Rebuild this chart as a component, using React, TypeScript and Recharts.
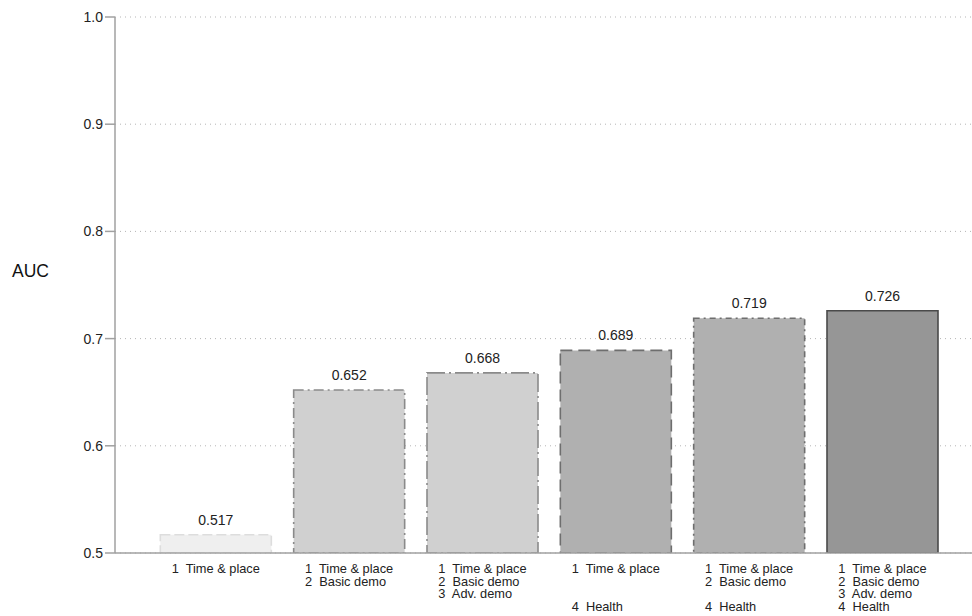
import { BarChart, Bar, Cell, XAxis, YAxis, CartesianGrid, LabelList } from "recharts";

const models = ["m1", "m2", "m3", "m4", "m5", "m6"];
const auc = [0.517, 0.652, 0.668, 0.689, 0.719, 0.726];
// one entry per model, one slot per feature block (empty = not included)
const featureLines = [
  ["1  Time & place", "", "", ""],
  ["1  Time & place", "2  Basic demo", "", ""],
  ["1  Time & place", "2  Basic demo", "3  Adv. demo", ""],
  ["1  Time & place", "", "", "4  Health"],
  ["1  Time & place", "2  Basic demo", "", "4  Health"],
  ["1  Time & place", "2  Basic demo", "3  Adv. demo", "4  Health"],
];
const yTicks = [0.5, 0.6, 0.7, 0.8, 0.9, 1.0];

const fills = ["#efefef", "#d0d0d0", "#d0d0d0", "#b0b0b0", "#b0b0b0", "#969696"];
const strokes = ["#dddddd", "#8a8a8a", "#8a8a8a", "#6e6e6e", "#6e6e6e", "#4a4a4a"];
const dashes = ["10 4", "10 4 2 4", "18 4 2 4", "12 6", "6 4 2 4", undefined];

const data = models.map((m, i) => ({ model: m, auc: auc[i], idx: i }));

const FONT = "'Liberation Sans', Arial, sans-serif";

function FeatureTick({ x, y, payload }: any) {
  const lines = featureLines[payload.index] ?? [];
  return (
    <g>
      {lines.map((ln, j) =>
        ln ? (
          <text
            key={j}
            x={x - 44}
            y={y + 12 + j * 12.7}
            fontSize={12.8}
            fontFamily={FONT}
            fill="#222"
            xmlSpace="preserve"
            style={{ whiteSpace: "pre" }}
          >
            {ln}
          </text>
        ) : null
      )}
    </g>
  );
}

export default function App() {
  return (
    <div style={{ position: "absolute", left: 0, top: 0, background: "#fff" }}>
      <div
        style={{
          position: "absolute",
          left: 12,
          top: 261,
          fontFamily: FONT,
          fontSize: 17.5,
          color: "#111",
        }}
      >
        AUC
      </div>
      <BarChart
        width={972}
        height={616}
        data={data}
        margin={{ top: 17, right: 0, left: 0, bottom: 0 }}
        barCategoryGap="8.5%"
      >
        <CartesianGrid
          horizontal
          vertical={false}
          strokeDasharray="1 4"
          stroke="#b5b5b5"
        />
        <XAxis
          dataKey="model"
          padding={{ left: 34, right: 23 }}
          tick={<FeatureTick />}
          tickLine={false}
          axisLine={{ stroke: "#a0a0a0", strokeWidth: 1.5 }}
          interval={0}
          height={63}
        />
        <YAxis
          domain={[0.5, 1.0]}
          ticks={yTicks}
          allowDataOverflow
          width={115}
          tickSize={10}
          tickFormatter={(v: number) => v.toFixed(1)}
          tick={{ fontSize: 14, fill: "#222", fontFamily: FONT }}
          tickLine={{ stroke: "#a0a0a0", strokeWidth: 1.5 }}
          axisLine={{ stroke: "#a0a0a0", strokeWidth: 1.5 }}
        />
        <Bar dataKey="auc" isAnimationActive={false}>
          {data.map((d, i) => (
            <Cell
              key={d.model}
              fill={fills[i]}
              stroke={strokes[i]}
              strokeWidth={1.6}
              strokeDasharray={dashes[i]}
            />
          ))}
          <LabelList
            dataKey="auc"
            position="top"
            offset={10}
            formatter={(v: any) => Number(v).toFixed(3)}
            style={{ fontSize: 14, fill: "#222", fontFamily: FONT }}
          />
        </Bar>
      </BarChart>
    </div>
  );
}
